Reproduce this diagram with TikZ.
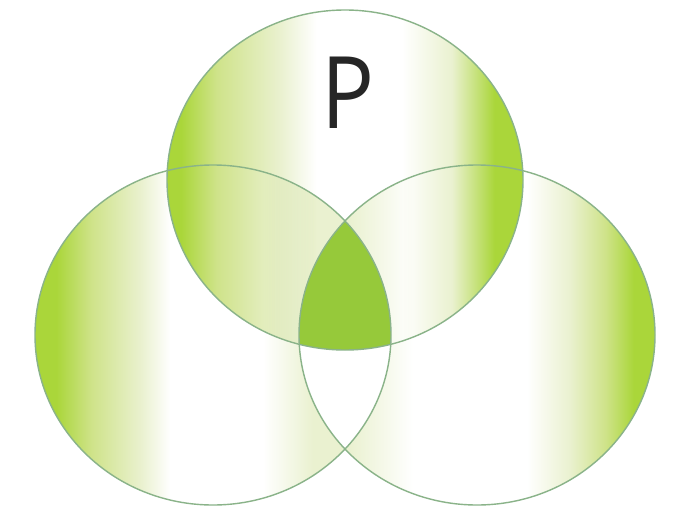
\documentclass[tikz,border=0pt]{standalone}
\usepackage{fontspec}
\setsansfont{Open Sans}
\usetikzlibrary{calc}
\definecolor{vennedge}{HTML}{8AB389}
\definecolor{vennstrong}{HTML}{AAD63A}
\definecolor{vennmid}{HTML}{CFE38A}
\definecolor{vennpale}{HTML}{EAF1D0}
\definecolor{vennlens}{HTML}{96C93A}
% horizontal shadings, the path box is 25bp--75bp
\pgfdeclarehorizontalshading{topshade}{100bp}{%
  color(0bp)=(vennstrong); color(27bp)=(vennstrong); color(32bp)=(vennmid);
  color(41bp)=(vennpale); color(46bp)=(white); color(58bp)=(white);
  color(65bp)=(vennpale); color(71bp)=(vennstrong); color(100bp)=(vennstrong)}
\pgfdeclarehorizontalshading{leftshade}{100bp}{%
  color(0bp)=(vennstrong); color(28bp)=(vennstrong); color(33bp)=(vennmid);
  color(40bp)=(vennpale); color(44bp)=(white); color(57bp)=(white);
  color(64bp)=(vennpale); color(75bp)=(vennpale); color(100bp)=(vennpale)}
\pgfdeclarehorizontalshading{rightshade}{100bp}{%
  color(0bp)=(vennpale); color(32bp)=(vennpale); color(41bp)=(white);
  color(57bp)=(white); color(63bp)=(vennpale); color(68bp)=(vennmid);
  color(72bp)=(vennstrong); color(100bp)=(vennstrong)}
\tikzset{
  ring/.style={x radius=178, y radius=170},
  rim/.style={draw=vennedge, line width=0.8pt},
  label/.style={font=\sffamily\fontsize{57}{60}\selectfont, text=black!85,
                inner sep=0pt, xscale=0.88},
}

\begin{document}
\begin{tikzpicture}[x=0.02cm, y=0.02cm]
    \useasboundingbox[fill=white] (0,0) rectangle (676,525);
    \coordinate (ctop) at (345,345);
    \coordinate (cleft) at (213,190);
    \coordinate (cright) at (477,190);
    % outer sets
    \shade[shading=leftshade] (cleft) ellipse [ring];
    \shade[shading=rightshade] (cright) ellipse [ring];
    % lower lens stays white
    \begin{scope}
      \clip (cleft) ellipse [ring];
      \fill[white] (cright) ellipse [ring];
    \end{scope}
    \begin{scope}[blend mode=multiply]
      \shade[shading=topshade] (ctop) ellipse [ring];
    \end{scope}
    % common part
    \begin{scope}
      \clip (ctop) ellipse [ring];
      \clip (cleft) ellipse [ring];
      \fill[vennlens] (cright) ellipse [ring];
    \end{scope}
    \draw[rim] (cleft) ellipse [ring];
    \draw[rim] (cright) ellipse [ring];
    \draw[rim] (ctop) ellipse [ring];
    \node[label] (p) at (348,432) {P};
  \end{tikzpicture}
\end{document}
